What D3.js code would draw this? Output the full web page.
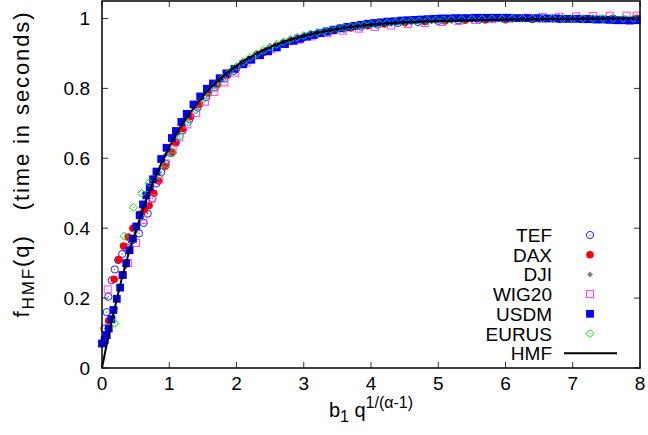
<!DOCTYPE html>
<html><head><meta charset="utf-8">
<script src="https://cdn.jsdelivr.net/npm/d3@7"></script>
<style>body{margin:0;background:#fff}svg{display:block}text{font-family:"Liberation Sans",Arial,sans-serif}</style>
</head><body>
<svg id="c" width="648" height="435"></svg>
<script>
const xTicks = [0,1,2,3,4,5,6,7,8];
const yTicks = [0,0.2,0.4,0.6,0.8,1];
const yTickLabels = ["0","0.2","0.4","0.6","0.8","1"];
const seriesNames = ["TEF","DAX","DJI","WIG20","USDM","EURUS"];

const TEF = [[0.034,0.113],[0.07,0.16],[0.094,0.204],[0.144,0.251],[0.19,0.282],[0.24,0.309],[0.30,0.326],[0.36,0.345],[0.44,0.365],[0.55,0.385],[0.62,0.415],[0.68,0.442],[0.75,0.485],[0.81,0.528],[0.88,0.56],[0.94,0.585],[1.02,0.615],[1.1,0.645],[1.2,0.68],[1.3,0.712],[1.42,0.745],[1.55,0.775],[1.68,0.803],[1.82,0.828],[1.96,0.85],[2.12,0.873],[2.3,0.895],[2.5,0.914],[2.7,0.929],[2.9,0.942],[3.1,0.952],[3.35,0.962],[3.6,0.971],[3.85,0.977],[4.1,0.982],[4.4,0.987],[4.7,0.99],[5.0,0.993],[5.3,0.995],[5.6,0.996],[6.0,0.997],[6.4,0.998],[6.8,0.999],[7.2,0.999],[7.6,1.0],[7.95,1.0]];
const DAX = [[0.10,0.135],[0.18,0.254],[0.25,0.31],[0.32,0.349],[0.39,0.375],[0.46,0.40],[0.56,0.44],[0.63,0.452],[0.70,0.465],[0.77,0.50],[0.84,0.535],[0.94,0.577],[1.04,0.618],[1.09,0.645],[1.2,0.685],[1.32,0.72],[1.45,0.755],[1.58,0.787],[1.72,0.812],[1.86,0.837],[2.0,0.857],[2.2,0.882],[2.4,0.903],[2.6,0.921],[2.8,0.935],[3.0,0.946],[3.2,0.956],[3.45,0.965],[3.7,0.973],[3.95,0.979],[4.2,0.984],[4.5,0.988],[4.8,0.991],[5.1,0.993],[5.4,0.995],[5.7,0.996],[6.0,0.997],[6.4,0.998],[6.8,0.998],[7.2,0.999],[7.6,0.999],[7.95,0.999]];
const DJI = [[0.2,0.17],[0.35,0.29],[0.5,0.39],[0.65,0.47],[0.8,0.545],[0.95,0.61],[1.1,0.665],[1.25,0.712],[1.4,0.75],[1.55,0.785],[1.7,0.812],[1.85,0.838],[2.0,0.86],[2.2,0.884],[2.4,0.905],[2.6,0.922],[2.8,0.936],[3.0,0.947],[3.25,0.958],[3.5,0.967],[3.75,0.974],[4.0,0.979],[4.3,0.984],[4.6,0.988],[4.9,0.991],[5.2,0.993],[5.5,0.995],[5.8,0.996],[6.1,0.997],[6.4,0.998],[6.7,0.998],[7.0,0.999],[7.3,0.999],[7.6,0.999],[7.9,1.0]];
const WIG20 = [[0.085,0.225],[0.30,0.266],[0.39,0.30],[0.505,0.358],[0.614,0.423],[0.74,0.485],[0.85,0.54],[0.95,0.585],[1.05,0.625],[1.15,0.66],[1.27,0.697],[1.4,0.73],[1.53,0.762],[1.67,0.79],[1.82,0.817],[1.98,0.845],[2.15,0.874],[2.33,0.895],[2.52,0.912],[2.72,0.927],[2.92,0.939],[3.12,0.949],[3.35,0.958],[3.58,0.965],[3.82,0.971],[4.06,0.976],[4.3,0.98],[4.55,0.984],[4.8,0.987],[5.05,0.99],[5.3,0.993],[5.55,0.996],[5.8,0.998],[6.05,1.0],[6.3,1.002],[6.55,1.004],[6.8,1.005],[7.05,1.006],[7.3,1.007],[7.55,1.008],[7.8,1.008],[7.95,1.008]];
const USDM = [[0.0,0.07],[0.04,0.08],[0.07,0.094],[0.10,0.113],[0.14,0.14],[0.17,0.166],[0.22,0.198],[0.27,0.23],[0.31,0.266],[0.36,0.30],[0.41,0.337],[0.46,0.37],[0.51,0.405],[0.56,0.437],[0.61,0.468],[0.66,0.494],[0.71,0.517],[0.76,0.54],[0.81,0.562],[0.88,0.598],[0.96,0.63],[1.04,0.658],[1.1,0.678],[1.18,0.704],[1.26,0.727],[1.36,0.754],[1.46,0.777],[1.56,0.799],[1.65,0.814],[1.75,0.829],[1.85,0.843],[1.97,0.856],[2.1,0.869],[2.22,0.882],[2.35,0.895],[2.47,0.906],[2.6,0.917],[2.72,0.927],[2.85,0.936],[2.95,0.942],[3.05,0.948],[3.15,0.953],[3.25,0.958],[3.35,0.963],[3.45,0.968],[3.55,0.972],[3.65,0.976],[3.75,0.979],[3.85,0.982],[3.95,0.985],[4.05,0.987],[4.15,0.989],[4.25,0.991],[4.35,0.992],[4.45,0.994],[4.55,0.995],[4.65,0.996],[4.75,0.997],[4.85,0.998],[4.95,0.999],[5.05,1.0],[5.15,1.0],[5.25,1.001],[5.35,1.001],[5.45,1.001],[5.55,1.002],[5.65,1.002],[5.75,1.002],[5.85,1.002],[5.95,1.002],[6.05,1.002],[6.15,1.001],[6.25,1.001],[6.35,1.001],[6.45,1.001],[6.55,1.0],[6.65,1.0],[6.75,1.0],[6.85,0.999],[6.95,0.999],[7.05,0.999],[7.15,0.998],[7.25,0.998],[7.35,0.997],[7.45,0.997],[7.55,0.996],[7.65,0.995],[7.75,0.995],[7.85,0.994],[7.95,0.995]];
const EURUS = [[0.19,0.128],[0.33,0.377],[0.466,0.459],[0.59,0.50],[0.70,0.53],[0.84,0.55],[0.94,0.578],[1.05,0.615],[1.16,0.663],[1.28,0.702],[1.40,0.738],[1.5,0.768],[1.6,0.792],[1.7,0.812],[1.8,0.83],[1.9,0.847],[2.0,0.862],[2.1,0.876],[2.2,0.888],[2.3,0.899],[2.4,0.909],[2.5,0.918],[2.6,0.926],[2.7,0.933],[2.8,0.94],[2.9,0.946],[3.0,0.951],[3.1,0.956],[3.2,0.96],[3.3,0.964],[3.4,0.968],[3.5,0.971],[3.6,0.974],[3.7,0.977],[3.8,0.979],[3.9,0.981],[4.0,0.983],[4.12,0.985],[4.24,0.987],[4.36,0.989],[4.48,0.99],[4.6,0.992],[4.72,0.993],[4.84,0.994],[4.96,0.995],[5.08,0.996],[5.2,0.997],[5.35,0.997],[5.5,0.998],[5.65,0.998],[5.8,0.999],[5.95,0.999],[6.1,0.999],[6.25,1.0],[6.4,1.0],[6.55,1.0],[6.7,1.0],[6.85,1.0],[7.0,1.0],[7.15,1.0],[7.3,1.0],[7.45,1.0],[7.6,1.0],[7.75,1.0],[7.9,1.0]];
const HMF = [[0,0],[0.1,0.095],[0.2,0.18],[0.3,0.26],[0.4,0.33],[0.5,0.39],[0.6,0.45],[0.8,0.55],[1.0,0.632],[1.2,0.70],[1.4,0.753],[1.6,0.80],[1.8,0.835],[2.0,0.865],[2.3,0.90],[2.6,0.926],[3.0,0.95],[3.5,0.97],[4.0,0.982],[4.5,0.989],[5,0.993],[6,0.997],[7,0.999],[8,1.0]];

const svg = d3.select("#c");
const L=102, R=640, T=1, B=368;
const x = d3.scaleLinear().domain([0,8]).range([L,R]);
const y = d3.scaleLinear().domain([0,1.05]).range([B,T]);
const FS = 19;

function marker(g, type, color){
  if(type==="circleOpen"){
    g.append("circle").attr("r",3.6).attr("fill","none").attr("stroke",color).attr("stroke-width",1);
    g.append("rect").attr("x",-0.5).attr("y",-0.5).attr("width",1).attr("height",1).attr("fill",color);
  } else if(type==="circleFill"){
    g.append("circle").attr("r",3.8).attr("fill",color);
  } else if(type==="diamondFill"){
    g.append("path").attr("d","M0,-3L3,0L0,3L-3,0Z").attr("fill",color);
  } else if(type==="squareOpen"){
    g.append("rect").attr("x",-3.5).attr("y",-3.5).attr("width",7).attr("height",7).attr("fill","none").attr("stroke",color).attr("stroke-width",1);
    g.append("rect").attr("x",-0.5).attr("y",-0.5).attr("width",1).attr("height",1).attr("fill",color);
  } else if(type==="squareFill"){
    g.append("rect").attr("x",-3.9).attr("y",-3.9).attr("width",7.8).attr("height",7.8).attr("fill",color);
  } else if(type==="diamondOpen"){
    g.append("path").attr("d","M0,-4L4,0L0,4L-4,0Z").attr("fill","none").attr("stroke",color).attr("stroke-width",1);
    g.append("rect").attr("x",-0.5).attr("y",-0.5).attr("width",1).attr("height",1).attr("fill",color);
  }
}
const series = [
  {name:"TEF", data:TEF, type:"circleOpen", color:"#2020ff"},
  {name:"DAX", data:DAX, type:"circleFill", color:"#ff0000"},
  {name:"DJI", data:DJI, type:"diamondFill", color:"#808080"},
  {name:"WIG20", data:WIG20, type:"squareOpen", color:"#ff40ff"},
  {name:"USDM", data:USDM, type:"squareFill", color:"#0000ff"},
  {name:"EURUS", data:EURUS, type:"diamondOpen", color:"#00e000"}
];

svg.append("defs").append("clipPath").attr("id","pc").append("rect")
  .attr("x",L-5).attr("y",T-5).attr("width",R-L+10).attr("height",B-T+5);

const plot = svg.append("g").attr("clip-path","url(#pc)");
series.forEach(s=>{
  const g = plot.append("g");
  s.data.forEach(d=>{
    const m = g.append("g").attr("transform",`translate(${x(d[0])},${y(d[1])})`);
    marker(m, s.type, s.color);
  });
});
plot.append("path").datum(HMF)
  .attr("d", d3.line().x(d=>x(d[0])).y(d=>y(d[1])).curve(d3.curveMonotoneX))
  .attr("fill","none").attr("stroke","#000").attr("stroke-width",2);

const tk = 6;
const ax = svg.append("g").attr("stroke","#333").attr("stroke-width",1);
xTicks.forEach(t=>{
  ax.append("line").attr("x1",x(t)).attr("x2",x(t)).attr("y1",B).attr("y2",B-tk);
  ax.append("line").attr("x1",x(t)).attr("x2",x(t)).attr("y1",T).attr("y2",T+tk);
});
yTicks.forEach(t=>{
  ax.append("line").attr("x1",L).attr("x2",L+tk).attr("y1",y(t)).attr("y2",y(t));
  ax.append("line").attr("x1",R).attr("x2",R-tk).attr("y1",y(t)).attr("y2",y(t));
});
svg.append("rect").attr("x",L).attr("y",T).attr("width",R-L).attr("height",B-T)
  .attr("fill","none").attr("stroke","#000").attr("stroke-width",1.5);

svg.append("g").selectAll("text").data(xTicks).join("text")
  .attr("x",d=>x(d)).attr("y",390).attr("text-anchor","middle").attr("font-size",FS).text(d=>d);
svg.append("g").selectAll("text").data(yTicks).join("text")
  .attr("x",90).attr("y",d=>y(d)+7).attr("text-anchor","end").attr("font-size",FS).text((d,i)=>yTickLabels[i]);

// x title
const xl = svg.append("text").attr("x",371).attr("y",417).attr("text-anchor","middle").attr("font-size",20);
xl.append("tspan").text("b");
xl.append("tspan").attr("dy",5).attr("font-size",16).text("1");
xl.append("tspan").attr("dy",-5).text(" q");
xl.append("tspan").attr("dy",-9).attr("font-size",16).text("1/(α-1)");

// y title
const yl = svg.append("text").attr("transform","translate(29,164) rotate(-90)").attr("text-anchor","middle")
  .attr("font-size",22).attr("letter-spacing",1.9);
yl.append("tspan").text("f");
yl.append("tspan").attr("dy",5).attr("font-size",17).text("HMF");
yl.append("tspan").attr("dy",-5).text("(q)\u00a0\u00a0\u00a0(time in seconds)");

const lg = svg.append("g");
const rowY = i => 235 + i*19.7;
series.forEach((s,i)=>{
  lg.append("text").attr("x",552).attr("y",rowY(i)+7).attr("text-anchor","end").attr("font-size",FS).text(s.name);
  const m = lg.append("g").attr("transform",`translate(590,${rowY(i)})`);
  marker(m, s.type, s.color);
});
lg.append("text").attr("x",552).attr("y",rowY(6)+7).attr("text-anchor","end").attr("font-size",FS).text("HMF");
lg.append("line").attr("x1",564).attr("x2",617).attr("y1",rowY(6)).attr("y2",rowY(6)).attr("stroke","#000").attr("stroke-width",2);
</script>
</body></html>
